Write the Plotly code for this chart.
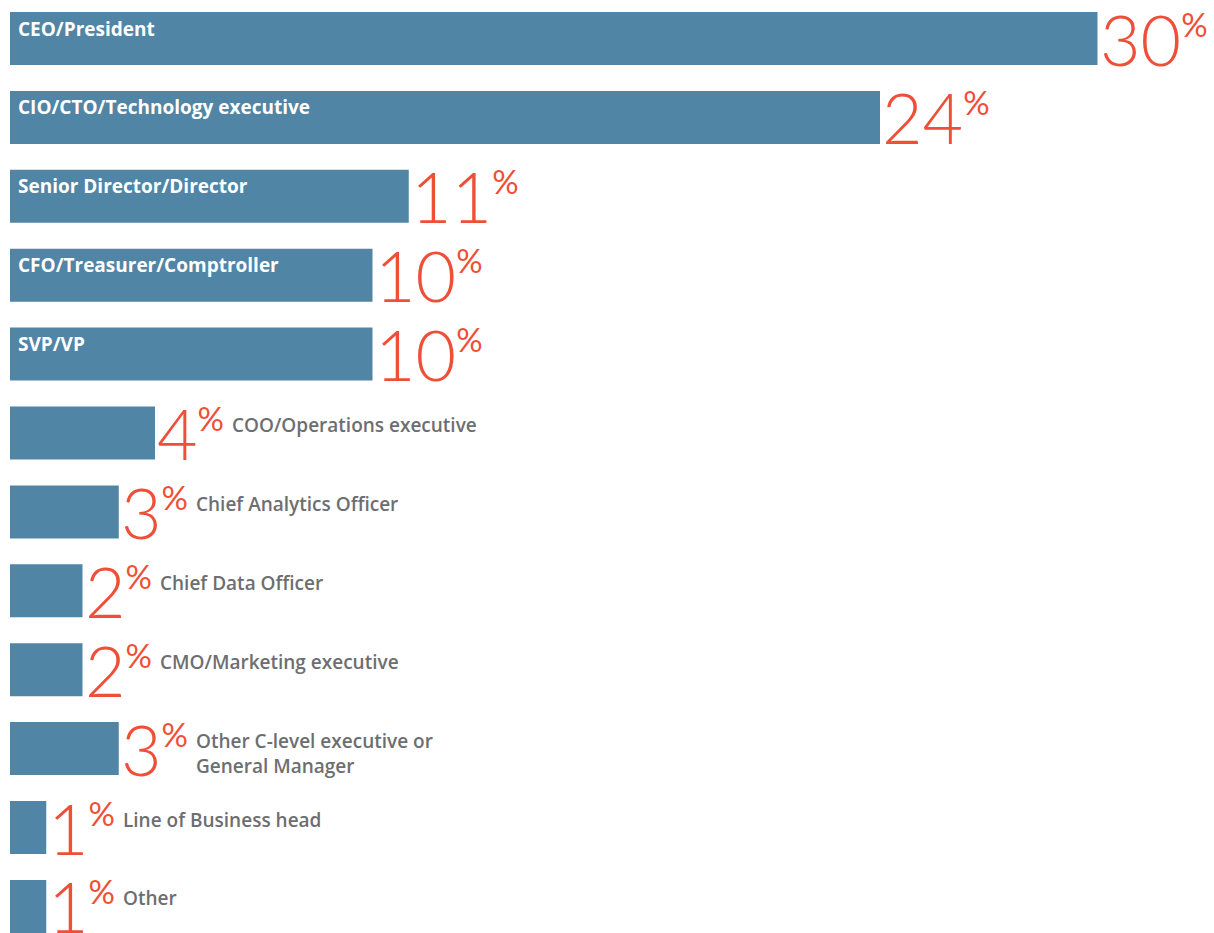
import plotly.graph_objects as go

# Respondent job titles and their share of the survey (percent)
titles = [
    "CEO/President",
    "CIO/CTO/Technology executive",
    "Senior Director/Director",
    "CFO/Treasurer/Comptroller",
    "SVP/VP",
    "COO/Operations executive",
    "Chief Analytics Officer",
    "Chief Data Officer",
    "CMO/Marketing executive",
    "Other C-level executive or<br>General Manager",
    "Line of Business head",
    "Other",
]
shares = [30, 24, 11, 10, 10, 4, 3, 2, 2, 3, 1, 1]

BAR = "#5185A5"
RED = "#EF4F38"
GREY = "#6D6E71"
NUM_FONT = "Lato"
LABEL_FONT = "Open Sans"
NUM_SIZE = 70
PCT_SIZE = 33

# approximate advance widths (px) of the big figures, used to place side labels
DIGIT_W = 39
PCT_W = 30

fig = go.Figure(
    go.Bar(
        x=shares,
        y=list(range(len(titles))),
        orientation="h",
        width=0.672,
        marker=dict(color=BAR, line=dict(width=0)),
        hoverinfo="skip",
    )
)

annotations = []
for i, (t, v) in enumerate(zip(titles, shares)):
    # big percentage figure right of the bar, with a small raised % sign
    annotations.append(dict(
        x=v, y=i, xref="x", yref="y",
        text=(f"{v}<sup><span style='font-size:{PCT_SIZE}px;font-weight:400'>"
              f"%</span></sup>"),
        showarrow=False, xanchor="left", yanchor="middle",
        xshift=0, yshift=0,
        font=dict(family=NUM_FONT, size=NUM_SIZE, color=RED, weight=300),
    ))
    if v >= 10:
        # title sits inside the bar
        annotations.append(dict(
            x=0, y=i, xref="x", yref="y", text=t, showarrow=False,
            xanchor="left", yanchor="middle", xshift=6, yshift=10,
            font=dict(family=LABEL_FONT, size=19, color="white", weight=700),
        ))
    else:
        offset = 6 + DIGIT_W * len(str(v)) + PCT_W
        annotations.append(dict(
            x=v, y=i, xref="x", yref="y", text=t, showarrow=False,
            xanchor="left", yanchor="top", xshift=offset, yshift=23,
            align="left",
            font=dict(family=LABEL_FONT, size=19, color=GREY, weight=600),
        ))

px_per_pct = 36.25
fig.update_layout(
    width=1214, height=933,
    margin=dict(l=0, r=0, t=0, b=0),
    paper_bgcolor="white", plot_bgcolor="white",
    showlegend=False,
    xaxis=dict(range=[-10 / px_per_pct, 1204 / px_per_pct], visible=False, fixedrange=True),
    yaxis=dict(range=[11.337, -0.488], visible=False, fixedrange=True),
    annotations=annotations,
)

fig.write_html("out.html")
